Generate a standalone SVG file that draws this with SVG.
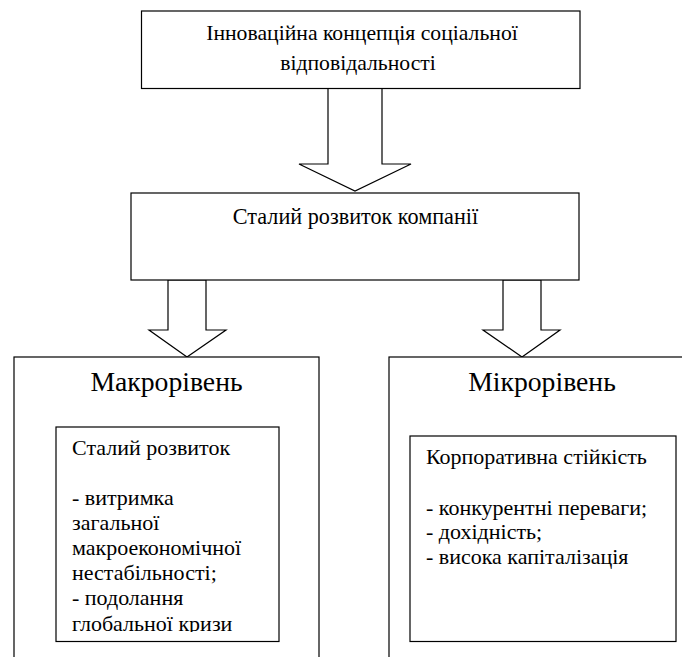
<svg xmlns="http://www.w3.org/2000/svg" width="682" height="657" viewBox="0 0 682 657">
<style>
  .box { fill: #fff; stroke: #000; stroke-width: 1.2; }
  .arrow { fill: #fff; stroke: #000; stroke-width: 1.2; stroke-linejoin: miter; }
  text { font-family: "Liberation Serif", "Times New Roman", serif; fill: #000; }
  .t1 { font-size: 21.7px; }
  .t2 { font-size: 22.2px; }
  .lvl { font-size: 27.7px; }
  .in { font-size: 22px; }
</style>
<defs>
  <clipPath id="clipL"><rect x="56" y="427" width="223" height="205"/></clipPath>
</defs>
<rect width="682" height="657" fill="#fff"/>
<g id="connectors">
  <polygon class="arrow" points="328,88 382,88 382,164 411,164 355,191 299,164 328,164"/>
  <polygon class="arrow" points="168,280 206,280 206,330 226,330 187,357 149,330 168,330"/>
  <polygon class="arrow" points="503,280 541,280 541,330 560,330 522,357 483,330 503,330"/>
</g>
<g id="concept">
  <rect class="box" x="141.5" y="11" width="438.5" height="77.5"/>
  <text class="t1" x="362" y="40" text-anchor="middle">Інноваційна концепція соціальної</text>
  <text class="t1" x="358" y="70" text-anchor="middle">відповідальності</text>
</g>
<g id="sustainable">
  <rect class="box" x="131" y="193" width="448" height="87"/>
  <text class="t2" x="355.5" y="224" text-anchor="middle">Сталий розвиток компанії</text>
</g>
<g id="macro">
  <rect class="box" x="14" y="357" width="305" height="320"/>
  <text class="lvl" x="166.5" y="391" text-anchor="middle">Макрорівень</text>
</g>
<g id="macro-inner">
  <rect class="box" x="56" y="427" width="223" height="214.5"/>
  <g clip-path="url(#clipL)">
    <text class="in" x="72" y="455">Сталий розвиток</text>
    <text class="in" x="72" y="505">- витримка</text>
    <text class="in" x="72" y="530">загальної</text>
    <text class="in" x="72" y="555">макроекономічної</text>
    <text class="in" x="72" y="580">нестабільності;</text>
    <text class="in" x="72" y="605">- подолання</text>
    <text class="in" x="72" y="631">глобальної кризи</text>
  </g>
</g>
<g id="micro">
  <rect class="box" x="389" y="357" width="320" height="320"/>
  <text class="lvl" x="542" y="391" text-anchor="middle">Мікрорівень</text>
</g>
<g id="micro-inner">
  <rect class="box" x="410" y="436" width="266" height="205.5"/>
  <text class="in" x="426" y="464">Корпоративна стійкість</text>
  <text class="in" x="426" y="515">- конкурентні переваги;</text>
  <text class="in" x="426" y="539">- дохідність;</text>
  <text class="in" x="426" y="564">- висока капіталізація</text>
</g>
</svg>
